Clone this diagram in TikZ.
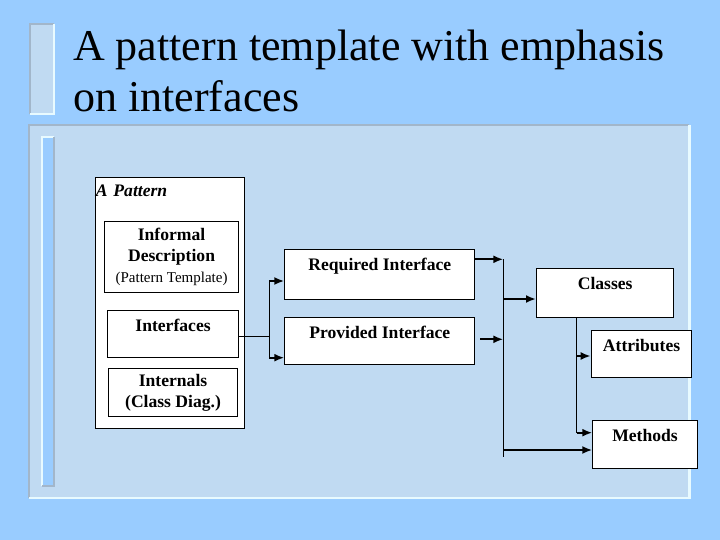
\documentclass[tikz,border=0pt]{standalone}
\usepackage{fontspec}
\setmainfont{Liberation Serif}
\usetikzlibrary{arrows.meta, positioning}
\definecolor{slidebg}{HTML}{99CCFF}
\definecolor{panelbg}{HTML}{C0DAF2}
\definecolor{edgelo}{HTML}{A2B6CA}
\definecolor{edgehi}{HTML}{E8FAFF}

\begin{document}
\begin{tikzpicture}[x=1pt, y=-1pt,
      every node/.style={text=black},
      box/.style={draw=black, line width=1.1pt, fill=white, anchor=north west, inner sep=0pt,
                  align=center, font=\fontsize{17.6}{21}\selectfont\bfseries},
      topbox/.style={box, text height=21pt, text depth=#1},
      trunk/.style={line width=1pt, draw=black},
      arr/.style={-{Latex[length=10pt, width=8pt]}, line width=2.2pt, draw=black}
    ]
    \fill[slidebg] (0,0) rectangle (720,540);
    \useasboundingbox (0,0) rectangle (720,540);
    \fill[panelbg] (30,24.3) rectangle (54.3,114.3);
    \draw[edgelo, line width=2pt] (30,114.3) -- (30,24.3) -- (54.3,24.3);
    \draw[edgehi, line width=2pt] (54.3,24.3) -- (54.3,114.3) -- (30,114.3);
    \fill[panelbg] (29,125) rectangle (689.3,498);
    \draw[edgelo, line width=2.5pt] (29,498) -- (29,125) -- (689.3,125);
    \draw[edgehi, line width=2.5pt] (689.3,125) -- (689.3,498) -- (29,498);
    \fill[slidebg] (41.7,137.3) rectangle (54.3,485.7);
    \draw[edgehi, line width=2pt] (41.7,485.7) -- (41.7,137.3) -- (54.3,137.3);
    \draw[edgelo, line width=2pt] (54.3,137.3) -- (54.3,485.7) -- (41.7,485.7);

    \node[anchor=north west, inner sep=0pt, align=left, font=\fontsize{44}{51}\selectfont] (title) at (73,30)
      {A pattern template with emphasis\\on interfaces};

    \node[box, minimum width=149pt, text width=149pt, align=left, text height=19pt, text depth=232pt,
          font=\fontsize{17.6}{21}\selectfont\bfseries\itshape] (pat) at (95.3,177.3) {A Pattern};
    \node[box, minimum width=133.4pt, minimum height=70.7pt] (inf) at (104.3,221)
      {Informal\\Description\\{\fontsize{15}{18}\selectfont\mdseries (Pattern Template)}};
    \node[topbox=25.4pt, minimum width=130.4pt] (intf) at (107.3,310.3) {Interfaces};
    \node[box, minimum width=128.4pt, minimum height=47.4pt] (intl) at (108.3,368.3)
      {Internals\\(Class Diag.)};
    \node[topbox=29pt, minimum width=190pt] (req) at (284.3,249.3) {Required Interface};
    \node[topbox=26pt, minimum width=190pt] (prov) at (284.3,317.3) {Provided Interface};
    \node[topbox=28pt, minimum width=137.3pt] (cls) at (536,268.3) {Classes};
    \node[topbox=26pt, minimum width=100.6pt] (attr) at (590.7,330) {Attributes};
    \node[topbox=27pt, minimum width=104.4pt] (meth) at (592.3,420.3) {Methods};

    \coordinate (split) at (269.3,336.3);
    \coordinate (splitt) at (269.3,281);
    \coordinate (splitb) at (269.3,357.7);
    \draw[trunk] (intf.east |- split) -- (split);
    \draw[trunk] (splitt) -- (splitb);
    \draw[arr] (splitt) -- (req.west |- splitt);
    \draw[arr] (splitb) -- (prov.west |- splitb);

    \coordinate (bust) at (503.3,259.3);
    \coordinate (busb) at (503.3,456.7);
    \coordinate (busp) at (503.3,339.3);
    \coordinate (busc) at (503.3,299);
    \coordinate (busm) at (503.3,450);
    \draw[trunk] (bust) -- (busb);
    \draw[arr] (req.east |- bust) -- (bust);
    \draw[arr] ([xshift=5pt]prov.east |- busp) -- (busp);
    \draw[arr] (busc) -- (cls.west |- busc);
    \draw[arr] (busm) -- (meth.west |- busm);

    \coordinate (clsa) at (576.7,356);
    \coordinate (clsm) at (576.7,432.7);
    \draw[trunk] (cls.south -| clsm) -- (clsm);
    \draw[arr] (clsa) -- (attr.west |- clsa);
    \draw[arr] (clsm) -- (meth.west |- clsm);
  \end{tikzpicture}
\end{document}
